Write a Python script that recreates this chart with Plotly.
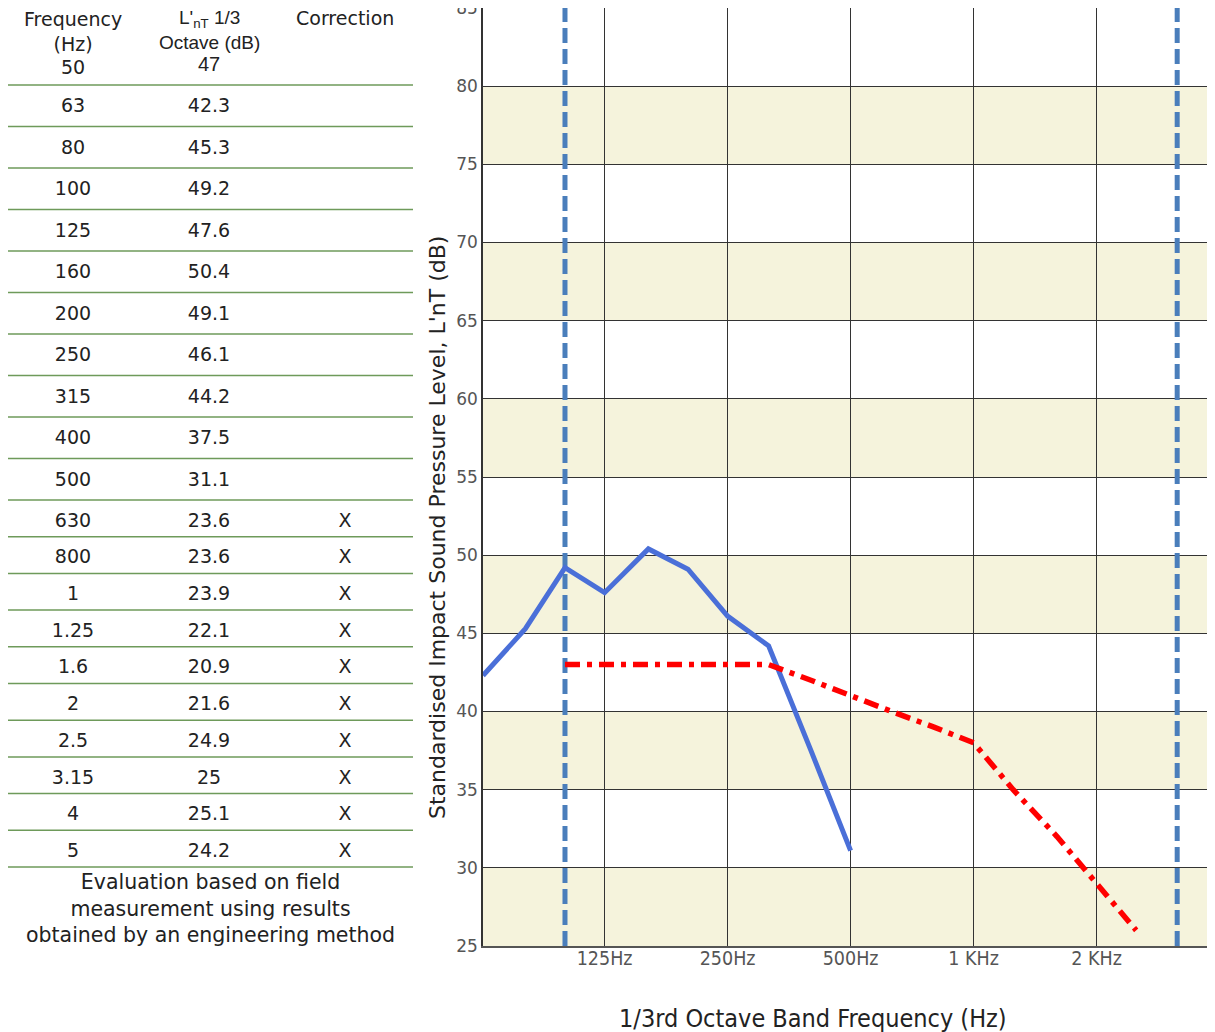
import math
import plotly.graph_objects as go

# ---------------- data ----------------
table_freq_labels = ["50", "63", "80", "100", "125", "160", "200", "250", "315", "400", "500",
                     "630", "800", "1", "1.25", "1.6", "2", "2.5", "3.15", "4", "5"]
table_lnt = ["47", "42.3", "45.3", "49.2", "47.6", "50.4", "49.1", "46.1", "44.2", "37.5", "31.1",
             "23.6", "23.6", "23.9", "22.1", "20.9", "21.6", "24.9", "25", "25.1", "24.2"]
table_correction = ["", "", "", "", "", "", "", "", "", "", "",
                    "X", "X", "X", "X", "X", "X", "X", "X", "X", "X"]

meas_freq = [63, 80, 100, 125, 160, 200, 250, 315, 400, 500]
meas_lnt = [42.3, 45.3, 49.2, 47.6, 50.4, 49.1, 46.1, 44.2, 37.5, 31.1]

ref_freq = [100, 125, 160, 200, 250, 315, 400, 500, 630, 800, 1000, 1250, 1600, 2000, 2500]
ref_lnt = [43, 43, 43, 43, 43, 43, 42, 41, 40, 39, 38, 35, 32, 29, 26]

limit_freqs = [100, 3150]

x_tickvals = [125, 250, 500, 1000, 2000, 4000]
x_ticktext = ["125Hz", "250Hz", "500Hz", "1 KHz", "2 KHz", "4 KHz"]
y_min, y_max, y_step = 25, 85, 5

# ---------------- layout constants (page pixel coordinates) ----------------
OFF = 8  # page body margin
PAGE_W, PAGE_H = 1215, 1032
W, H = PAGE_W - OFF, PAGE_H - OFF
plot_left, plot_right = 483, 1215
plot_top, plot_bottom = 8, 946
px_per_octave = 123.0
x_lo = math.log10(63)
x_hi = x_lo + (plot_right - plot_left) / px_per_octave * math.log10(2)


def px(x):
    return (x - OFF) / W


def py(y):
    return 1 - (y - OFF) / H


fig = go.Figure()

for f in limit_freqs:
    fig.add_trace(go.Scatter(x=[f, f], y=[y_min, y_max], mode="lines",
                             line=dict(color="#4a7ebb", width=5, dash="15px,6px"),
                             hoverinfo="skip", showlegend=False, xaxis="x", yaxis="y"))

fig.add_trace(go.Scatter(x=meas_freq, y=meas_lnt, mode="lines",
                         line=dict(color="#4a6fd8", width=5),
                         showlegend=False, xaxis="x", yaxis="y"))
fig.add_trace(go.Scatter(x=ref_freq, y=ref_lnt, mode="lines",
                         line=dict(color="#ff0000", width=5.5, dash="15px,7px,5px,7px"),
                         showlegend=False, xaxis="x", yaxis="y"))

shapes = []
for i, lo in enumerate(range(y_min, y_max, y_step)):
    if i % 2 == 0:
        shapes.append(dict(type="rect", xref="x domain", yref="y", x0=0, x1=1, y0=lo, y1=lo + y_step,
                           fillcolor="#f5f3dc", line=dict(width=0), layer="below"))

# ---------------- table (x2/y2 in page pixel units) ----------------
col_x = [73, 209, 345]
sep_y = [85 + 41.5 * k for k in range(11)] + [500 + 36.7 * k for k in range(1, 11)]
row_y = [69] + [(sep_y[k] + sep_y[k + 1]) / 2 + (1.5 if k < 10 else 3.5) for k in range(len(sep_y) - 1)]

table_font = dict(family="DejaVu Sans, Verdana, sans-serif", size=19, color="#222222")
arial_font = dict(family="Liberation Sans, Arial", size=19, color="#222222")
fig.add_trace(go.Scatter(x=[col_x[0]] * len(table_freq_labels), y=row_y, text=table_freq_labels,
                         mode="text", textfont=table_font, showlegend=False, hoverinfo="skip",
                         xaxis="x2", yaxis="y2", cliponaxis=False))
fig.add_trace(go.Scatter(x=[col_x[1]] * (len(table_lnt) - 1), y=row_y[1:], text=table_lnt[1:],
                         mode="text", textfont=table_font, showlegend=False, hoverinfo="skip",
                         xaxis="x2", yaxis="y2", cliponaxis=False))
fig.add_trace(go.Scatter(x=[col_x[1]], y=[row_y[0] - 3], text=table_lnt[:1],
                         mode="text", textfont=dict(arial_font, size=20), showlegend=False, hoverinfo="skip",
                         xaxis="x2", yaxis="y2", cliponaxis=False))
corr_rows = [i for i, c in enumerate(table_correction) if c]
fig.add_trace(go.Scatter(x=[col_x[2]] * len(corr_rows), y=[row_y[i] for i in corr_rows],
                         text=[table_correction[i] for i in corr_rows],
                         mode="text", textfont=table_font, showlegend=False, hoverinfo="skip",
                         xaxis="x2", yaxis="y2", cliponaxis=False))

for y in sep_y:
    shapes.append(dict(type="line", xref="x2", yref="y2", x0=7, x1=413, y0=y, y1=y,
                       line=dict(color="#6e9a5a", width=1.5)))

annotations = [
    dict(text="Frequency<br>(Hz)", x=col_x[0], y=31, xref="x2", yref="y2", showarrow=False,
         font=table_font),
    dict(text="L'<sub>nT</sub> 1/3<br>Octave (dB)", x=col_x[1], y=30, xref="x2", yref="y2", showarrow=False,
         font=arial_font),
    dict(text="Correction", x=col_x[2], y=18, xref="x2", yref="y2", showarrow=False, font=table_font),
    dict(text="Evaluation based on field<br>measurement using results<br>obtained by an engineering method",
         x=210, y=908, xref="x2", yref="y2", showarrow=False,
         font=dict(family="DejaVu Sans, Verdana, sans-serif", size=20.5, color="#222222")),
    dict(text="Standardised Impact Sound Pressure Level, L'nT (dB)", textangle=-90,
         x=px(437), y=py(528), xref="paper", yref="paper", xanchor="center", yanchor="middle",
         showarrow=False,
         font=dict(family="DejaVu Sans, Verdana, sans-serif", size=22, color="#222222")),
    dict(text="1/3rd Octave Band Frequency (Hz)", x=px(813), y=py(1018), xref="paper", yref="paper",
         xanchor="center", yanchor="middle", showarrow=False,
         font=dict(family="DejaVu Sans Condensed, Liberation Sans Narrow, Liberation Sans", size=25,
                   color="#222222")),
]

fig.update_layout(
    width=W, height=H,
    margin=dict(l=0, r=0, t=0, b=0, autoexpand=False),
    paper_bgcolor="white", plot_bgcolor="white",
    showlegend=False,
    shapes=shapes, annotations=annotations,
    xaxis=dict(type="log", domain=[px(plot_left), px(plot_right)], range=[x_lo, x_hi],
               tickvals=x_tickvals, ticktext=x_ticktext, showgrid=True, gridcolor="#333333", gridwidth=1,
               showline=True, linecolor="#555555", linewidth=2, mirror=True, zeroline=False,
               ticks="", automargin=False, ticklabelstandoff=-6,
               tickfont=dict(family="DejaVu Sans Condensed, Liberation Sans Narrow, Liberation Sans",
                             size=19.5, color="#555555")),
    yaxis=dict(domain=[py(plot_bottom), min(1.0, py(plot_top))], range=[y_min, y_max], dtick=y_step,
               tick0=y_min, showgrid=True, gridcolor="#333333", gridwidth=1,
               showline=True, linecolor="#333333", linewidth=1.5, mirror=True, zeroline=False,
               ticks="", automargin=False, ticklabeloverflow="allow",
               tickfont=dict(family="DejaVu Sans, Verdana, sans-serif", size=17, color="#555555")),
    xaxis2=dict(domain=[0, px(420)], range=[OFF, 420], visible=False, fixedrange=True),
    yaxis2=dict(domain=[0, 1], range=[PAGE_H, OFF], visible=False, fixedrange=True, anchor="x2"),
)

fig.write_html("out.html")
